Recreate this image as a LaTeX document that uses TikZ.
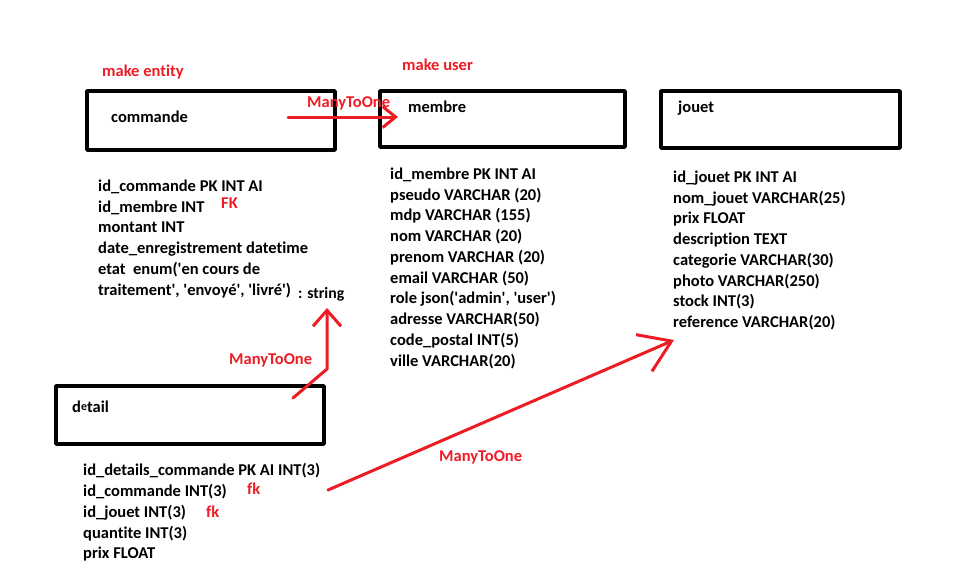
\documentclass[tikz,border=0pt]{standalone}
\usepackage{fontspec}
\setmainfont{Carlito}[Ligatures={NoCommon}]
\usetikzlibrary{arrows.meta}
\definecolor{paintred}{RGB}{237,28,36}
\newcommand{\q}{\textquotesingle}
\tikzset{
  entitybox/.style={draw, line width=3.5pt, inner sep=0pt},
  boxname/.style={anchor=west, inner sep=0pt, font=\fontsize{16.5}{19}\selectfont\bfseries},
  fieldlist/.style={anchor=north west, inner sep=0pt, align=left,
    font=\fontsize{16.5}{20.75}\selectfont\bfseries},
  note/.style={anchor=west, inner sep=0pt, text=paintred,
    font=\fontsize{16.5}{18}\selectfont\bfseries},
  relarrow/.style={draw=paintred, line width=3pt, line cap=round, line join=round},
}
\begin{document}
\begin{tikzpicture}[x=1pt, y=-1pt, line cap=round, line join=round]
  \useasboundingbox (0,0) rectangle (963,586);

  % Entity boxes
  \node[entitybox, minimum width=248pt, minimum height=59pt] (commande) at (211,120.5) {};
  \node[entitybox, minimum width=245pt, minimum height=56pt] (membre) at (502.5,119) {};
  \node[entitybox, minimum width=239pt, minimum height=57pt] (jouet) at (780.5,119.5) {};
  \node[entitybox, minimum width=268pt, minimum height=58pt] (detail) at (190,415) {};

  % Box names
  \node[boxname] (commandename) at (111,117) {commande};
  \node[boxname] (membrename) at (408,107) {membre};
  \node[boxname] (jouetname) at (678,108) {jouet};
  \node[boxname] (detailname) at (72,407) {d\raisebox{2pt}{\fontsize{12}{13}\selectfont e}tail};

  % Symfony commands
  \node[note] (makeentity) at (102,72) {make entity};
  \node[note] (makeuser) at (402,65) {make user};

  % Field lists
  \node[fieldlist] (commandefields) at (98,179.5) {id\_commande PK INT AI\\
    id\_membre INT\\
    montant INT\\
    date\_enregistrement datetime\\
    etat\ \ enum(\q en cours de\\
    traitement\q, \q envoy\'e\q, \q livr\'e\q)};
  \node[anchor=west, inner sep=0pt, font=\fontsize{15.75}{17}\selectfont\bfseries] (etattype) at (298,294) {: string};

  \node[fieldlist] (membrefields) at (390,167.5) {id\_membre PK INT AI\\
    pseudo VARCHAR (20)\\
    mdp VARCHAR (155)\\
    nom VARCHAR (20)\\
    prenom VARCHAR (20)\\
    email VARCHAR (50)\\
    role json(\q admin\q, \q user\q)\\
    adresse VARCHAR(50)\\
    code\_postal INT(5)\\
    ville VARCHAR(20)};

  \node[fieldlist] (jouetfields) at (673,170.5) {id\_jouet PK INT AI\\
    nom\_jouet VARCHAR(25)\\
    prix FLOAT\\
    description TEXT\\
    categorie VARCHAR(30)\\
    photo VARCHAR(250)\\
    stock INT(3)\\
    reference VARCHAR(20)};

  \node[fieldlist] (detailfields) at (83,463.5) {id\_details\_commande PK AI INT(3)\\
    id\_commande INT(3)\\
    id\_jouet INT(3)\\
    quantite INT(3)\\
    prix FLOAT};

  % Foreign keys
  \node[note] (fkmembre) at (221,203) {FK};
  \node[note] (fkcommande) at (247,489) {fk};
  \node[note] (fkjouet) at (206,512) {fk};

  % Relations
  \coordinate (cmdfrom) at (288,117);
  \coordinate (cmdto) at (398,117);
  \coordinate (detfrom) at (293,398);
  \coordinate (detbend) at (327,369);
  \coordinate (detto) at (327,308);
  \coordinate (jouetfrom) at (328,490);
  \coordinate (jouetto) at (674,340);

  \draw[relarrow, -{Straight Barb[length=13pt, width=21pt]}] (cmdfrom) -- (cmdto);
  \draw[relarrow, -{Straight Barb[length=16pt, width=28pt]}] (detfrom) -- (detbend) -- (detto);
  \draw[relarrow, -{Straight Barb[length=30pt, width=40pt]}] (jouetfrom) -- (jouetto);

  \node[note] (mtomembre) at (307,103) {ManyToOne};
  \node[note] (mtocommande) at (229,360) {ManyToOne};
  \node[note] (mtojouet) at (439,457) {ManyToOne};
\end{tikzpicture}
\end{document}
